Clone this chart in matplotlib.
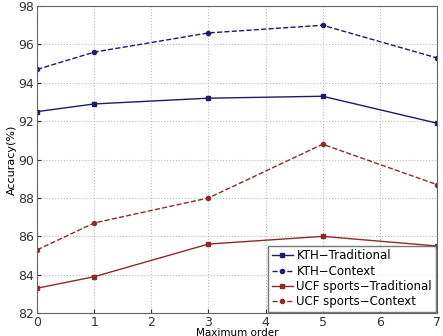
import matplotlib
matplotlib.use("Agg")
import matplotlib.pyplot as plt

# --- DATA ---
orders = [0, 1, 3, 5, 7]
kth_traditional = [92.5, 92.9, 93.2, 93.3, 91.9]
kth_context = [94.7, 95.6, 96.6, 97.0, 95.3]
ucf_traditional = [83.3, 83.9, 85.6, 86.0, 85.5]
ucf_context = [85.3, 86.7, 88.0, 90.8, 88.7]

# --- STYLE ---
BLUE = "#1c1c6a"
RED = "#8e2a2a"

fig = plt.figure(figsize=(4.43, 3.36), dpi=100)
ax = fig.add_axes([0.084, 0.068, 0.902, 0.914])

ax.plot(orders, kth_traditional, "-", color=BLUE, marker="s", markersize=3,
        linewidth=1.0, label="KTH\u2212Traditional")
ax.plot(orders, kth_context, "--", color=BLUE, marker="o", markersize=3,
        linewidth=1.0, label="KTH\u2212Context")
ax.plot(orders, ucf_traditional, "-", color=RED, marker="s", markersize=3,
        linewidth=1.0, label="UCF sports\u2212Traditional")
ax.plot(orders, ucf_context, "--", color=RED, marker="o", markersize=3,
        linewidth=1.0, label="UCF sports\u2212Context")

ax.set_xlim(0, 7)
ax.set_ylim(82, 98)
ax.set_xticks(range(0, 8))
ax.set_yticks(range(82, 99, 2))
ax.tick_params(labelsize=9, direction="in", length=3, colors="#333333", pad=2)
ax.grid(True, linestyle=":", color="#bbbbbb", linewidth=0.8)
for s in ax.spines.values():
    s.set_color("#666666")

ax.set_xlabel("Maximum order", fontsize=7.5, labelpad=-1)
ax.set_ylabel("Accuracy(%)", fontsize=8, labelpad=1)

# legend box in the lower right corner
leg = ax.legend(loc="lower right", fontsize=8.5, frameon=True, fancybox=False,
                handlelength=1.8, borderpad=0.3, labelspacing=0.2,
                handletextpad=0.3, borderaxespad=0.1)
leg.get_frame().set_edgecolor("#555555")
leg.get_frame().set_linewidth(1.0)

plt.savefig("out.png", dpi=100)
plt.close()
